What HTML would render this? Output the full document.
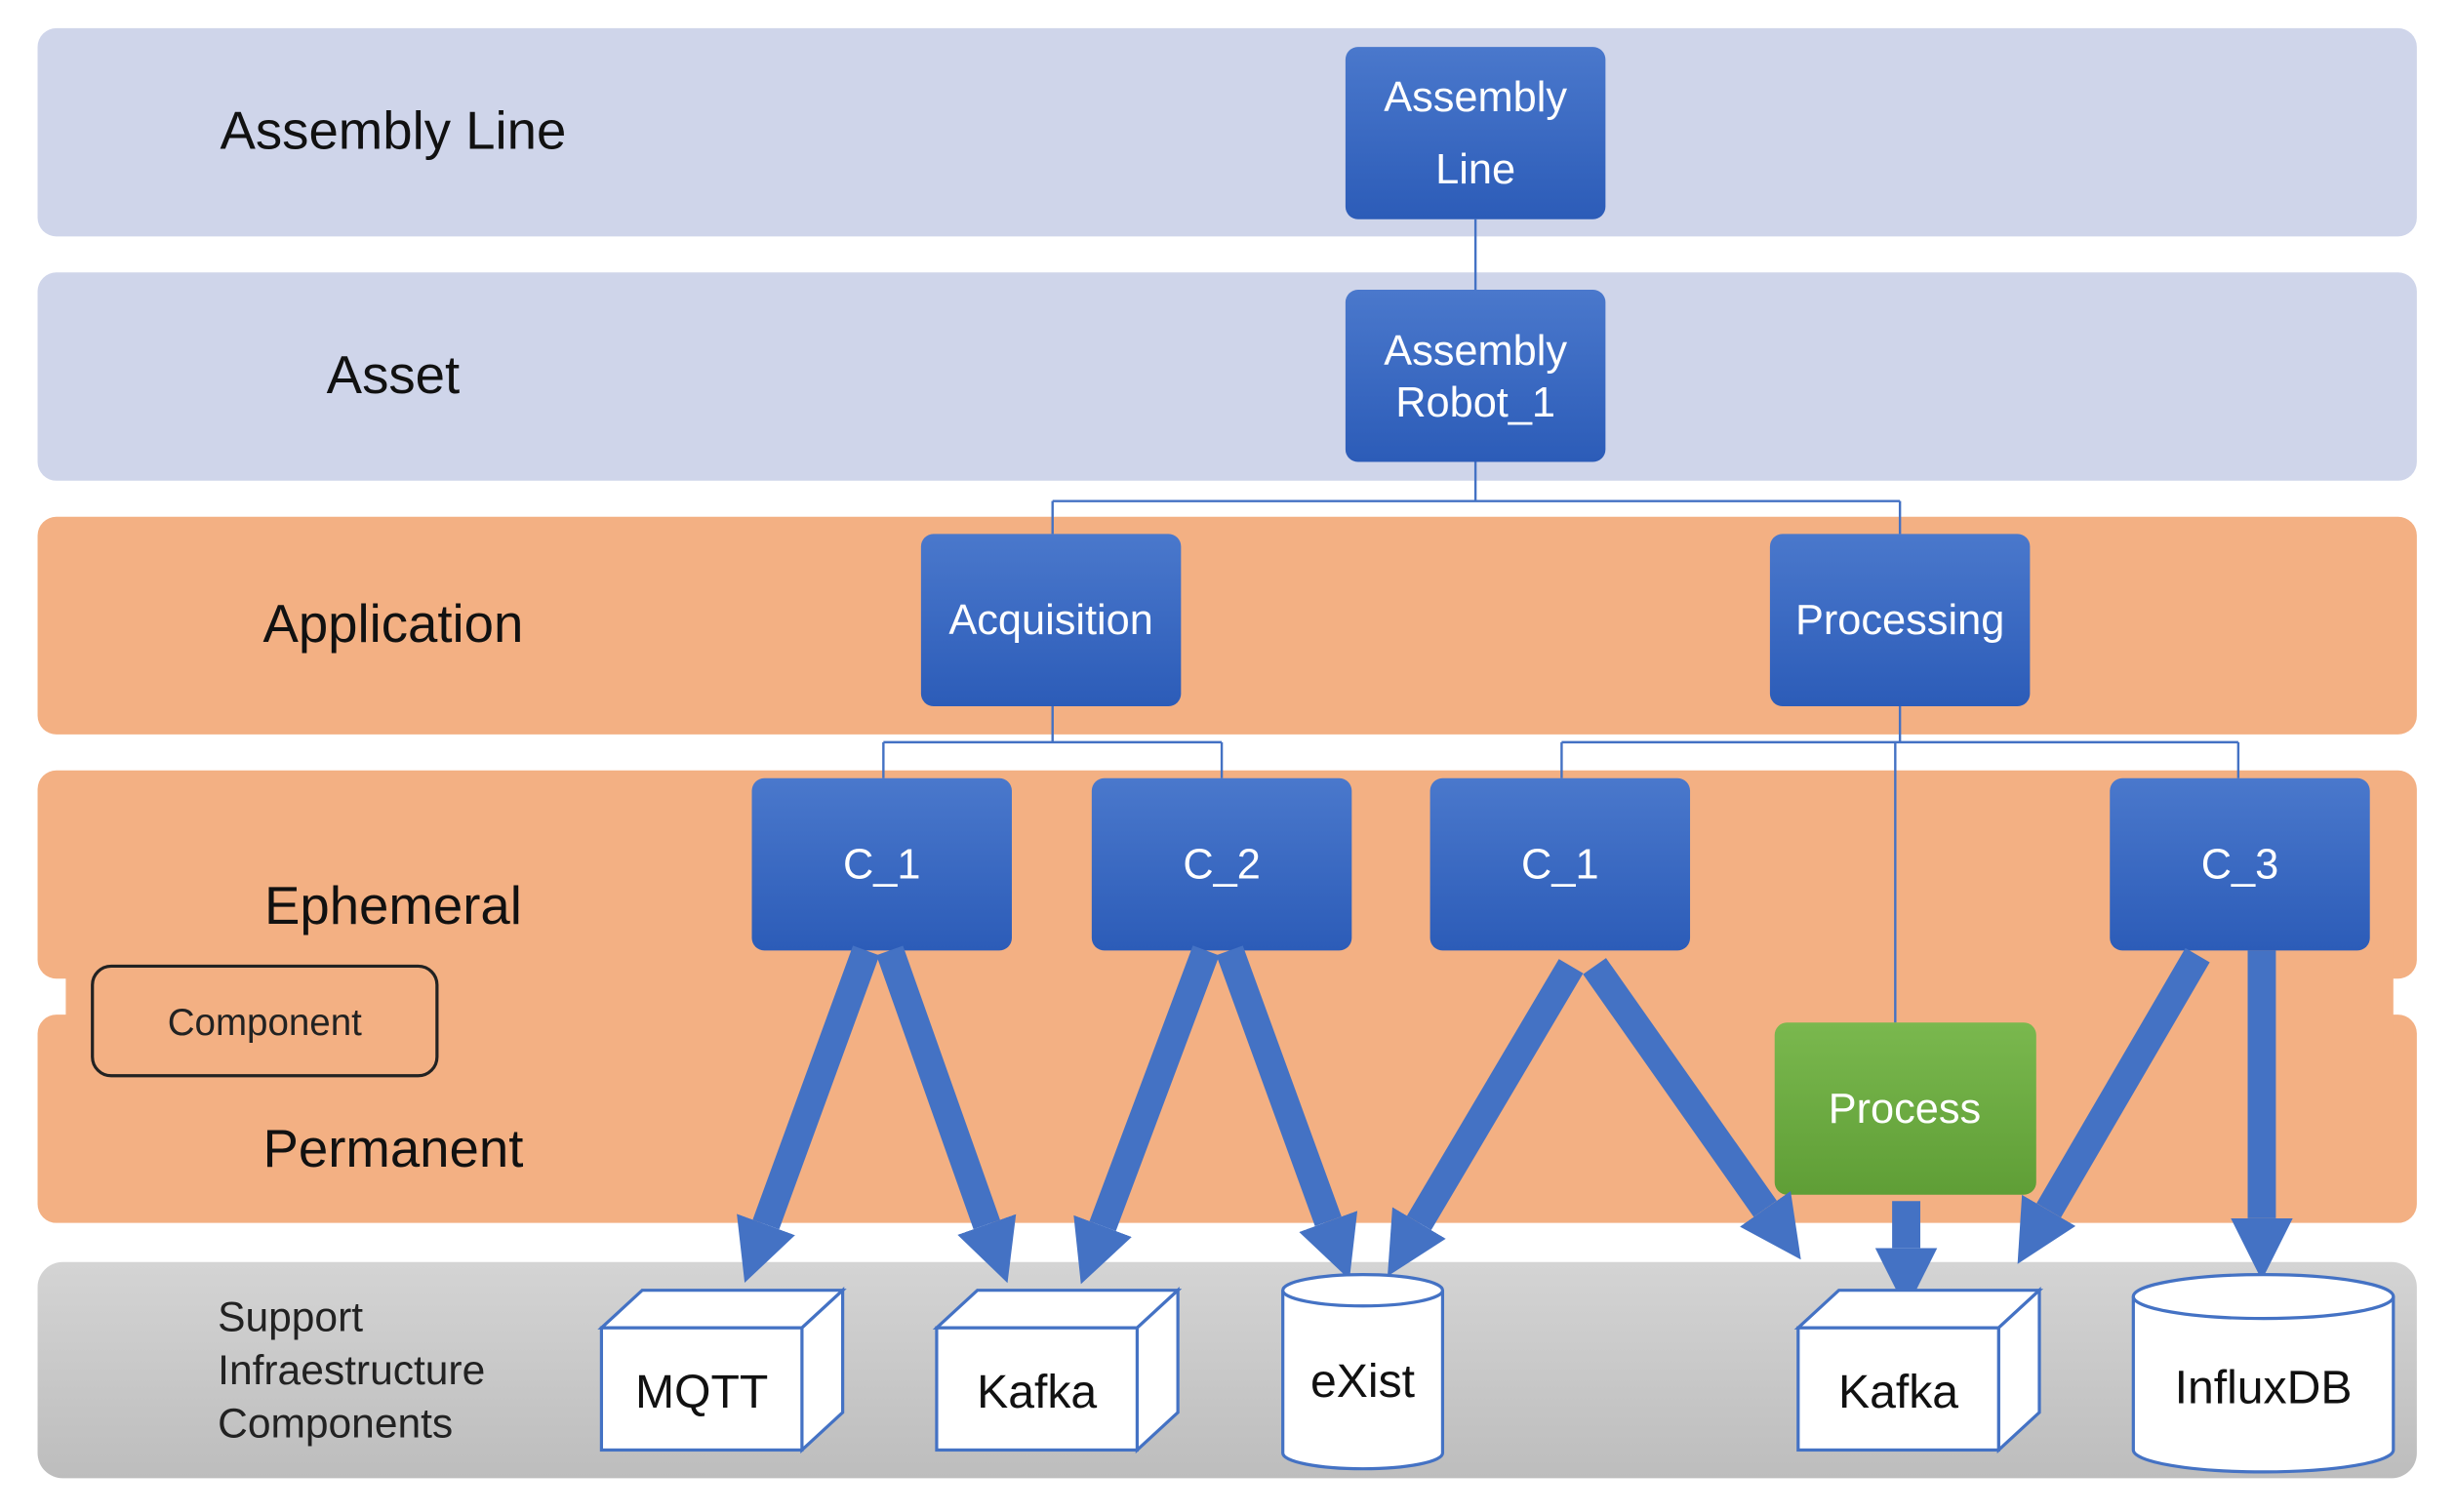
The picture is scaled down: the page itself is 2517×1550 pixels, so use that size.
<!DOCTYPE html>
<html><head><meta charset="utf-8"><style>
html,body{margin:0;padding:0;background:#fff;}
svg{display:block;}
text{font-family:"Liberation Sans",sans-serif;}
</style></head><body>
<svg width="2517" height="1550" viewBox="0 0 1568 965.6" preserveAspectRatio="none" xmlns="http://www.w3.org/2000/svg">
<defs>
<linearGradient id="bl" x1="0" y1="0" x2="0" y2="1"><stop offset="0" stop-color="#4a78cc"/><stop offset="1" stop-color="#2c5cb8"/></linearGradient>
<linearGradient id="gr" x1="0" y1="0" x2="0" y2="1"><stop offset="0" stop-color="#7ab84e"/><stop offset="1" stop-color="#5f9e36"/></linearGradient>
<linearGradient id="gy" x1="0" y1="0" x2="0" y2="1"><stop offset="0" stop-color="#d4d4d4"/><stop offset="1" stop-color="#bdbdbd"/></linearGradient>
<marker id="ah" viewBox="0 0 10 10" refX="0" refY="5" markerWidth="2.2" markerHeight="2.7" markerUnits="strokeWidth" orient="auto">
<path d="M0,0 L10,5 L0,10 z" fill="#4472c4"/></marker>
</defs>
<rect x="24" y="18" width="1519" height="133" rx="12" fill="#cfd5ea"/>
<rect x="24" y="174" width="1519" height="133" rx="12" fill="#cfd5ea"/>
<rect x="24" y="330" width="1519" height="139" rx="12" fill="#f3b083"/>
<rect x="24" y="492" width="1519" height="133" rx="12" fill="#f3b083"/>
<rect x="24" y="648" width="1519" height="133" rx="12" fill="#f3b083"/>
<rect x="42" y="600" width="1486" height="70" fill="#f3b083"/>
<rect x="24" y="806" width="1519" height="138" rx="16" fill="url(#gy)"/>
<g font-size="34" fill="#111" text-anchor="middle">
<text x="251" y="95">Assembly Line</text>
<text x="251" y="251">Asset</text>
<text x="251" y="410">Application</text>
<text x="251" y="590">Ephemeral</text>
<text x="251" y="745">Permanent</text>
</g>
<rect x="59" y="617" width="220" height="70" rx="12" fill="none" stroke="#222" stroke-width="2"/>
<text x="169" y="661" font-size="24" text-anchor="middle" fill="#222">Component</text>
<g font-size="26.5" fill="#222">
<text x="139" y="850">Support</text>
<text x="139" y="884">Infraestructure</text>
<text x="139" y="918">Components</text>
</g>
<g stroke="#4472c4" stroke-width="1.5" fill="none">
<path d="M942 140V185M942 295V320M672 320H1213M672 320V341M1213 320V341"/>
<path d="M672 451V474M564 474H780M564 474V497M780 474V497"/>
<path d="M1213 451V474M997 474H1429M997 474V497M1429 474V497M1210 474V653"/>
</g>
<g fill="url(#bl)">
<rect x="859" y="30" width="166" height="110" rx="8"/>
<rect x="859" y="185" width="166" height="110" rx="8"/>
<rect x="588" y="341" width="166" height="110" rx="8"/>
<rect x="1130" y="341" width="166" height="110" rx="8"/>
<rect x="480" y="497" width="166" height="110" rx="8"/>
<rect x="697" y="497" width="166" height="110" rx="8"/>
<rect x="913" y="497" width="166" height="110" rx="8"/>
<rect x="1347" y="497" width="166" height="110" rx="8"/>
</g>
<rect x="1133" y="653" width="167" height="110" rx="8" fill="url(#gr)"/>
<g font-size="27" fill="#fff" text-anchor="middle">
<text x="942" y="71">Assembly</text>
<text x="942" y="117">Line</text>
<text x="942" y="233">Assembly</text>
<text x="942" y="266">Robot_1</text>
<text x="671" y="405">Acquisition</text>
<text x="1213" y="405">Processing</text>
<text x="563" y="561">C_1</text>
<text x="780" y="561">C_2</text>
<text x="996" y="561">C_1</text>
<text x="1430" y="561">C_3</text>
<text x="1216" y="717">Process</text>
</g>
<g stroke="#4472c4" stroke-width="18" marker-end="url(#ah)">
<line x1="553" y1="607" x2="489" y2="782"/>
<line x1="568" y1="607" x2="630" y2="782"/>
<line x1="770" y1="607" x2="704" y2="783"/>
<line x1="785" y1="607" x2="848" y2="780"/>
<line x1="1003" y1="617" x2="906" y2="781"/>
<line x1="1018" y1="617" x2="1127" y2="772"/>
<line x1="1217" y1="767" x2="1217" y2="797"/>
<line x1="1403" y1="610" x2="1308" y2="773"/>
<line x1="1444" y1="607" x2="1444" y2="778"/>
</g>
<g fill="#fff" stroke="#4472c4" stroke-width="2">
<polygon points="384,848 410,824 538,824 512,848"/><polygon points="512,848 538,824 538,902 512,926"/><rect x="384" y="848" width="128" height="78"/>
<polygon points="598,848 624,824 752,824 726,848"/><polygon points="726,848 752,824 752,902 726,926"/><rect x="598" y="848" width="128" height="78"/>
<polygon points="1148,848 1174,824 1302,824 1276,848"/><polygon points="1276,848 1302,824 1302,902 1276,926"/><rect x="1148" y="848" width="128" height="78"/>
<path d="M819 824V928A51 10 0 0 0 921 928V824"/><ellipse cx="870" cy="824" rx="51" ry="10"/>
<path d="M1362 828V926A83 14 0 0 0 1528 926V828"/><ellipse cx="1445" cy="828" rx="83" ry="14"/>
</g>
<g font-size="30" fill="#111" text-anchor="middle">
<text x="448" y="899">MQTT</text>
<text x="662" y="899">Kafka</text>
<text x="1212" y="899">Kafka</text>
<text x="870" y="892">eXist</text>
<text x="1445" y="896">InfluxDB</text>
</g>
</svg>
</body></html>
